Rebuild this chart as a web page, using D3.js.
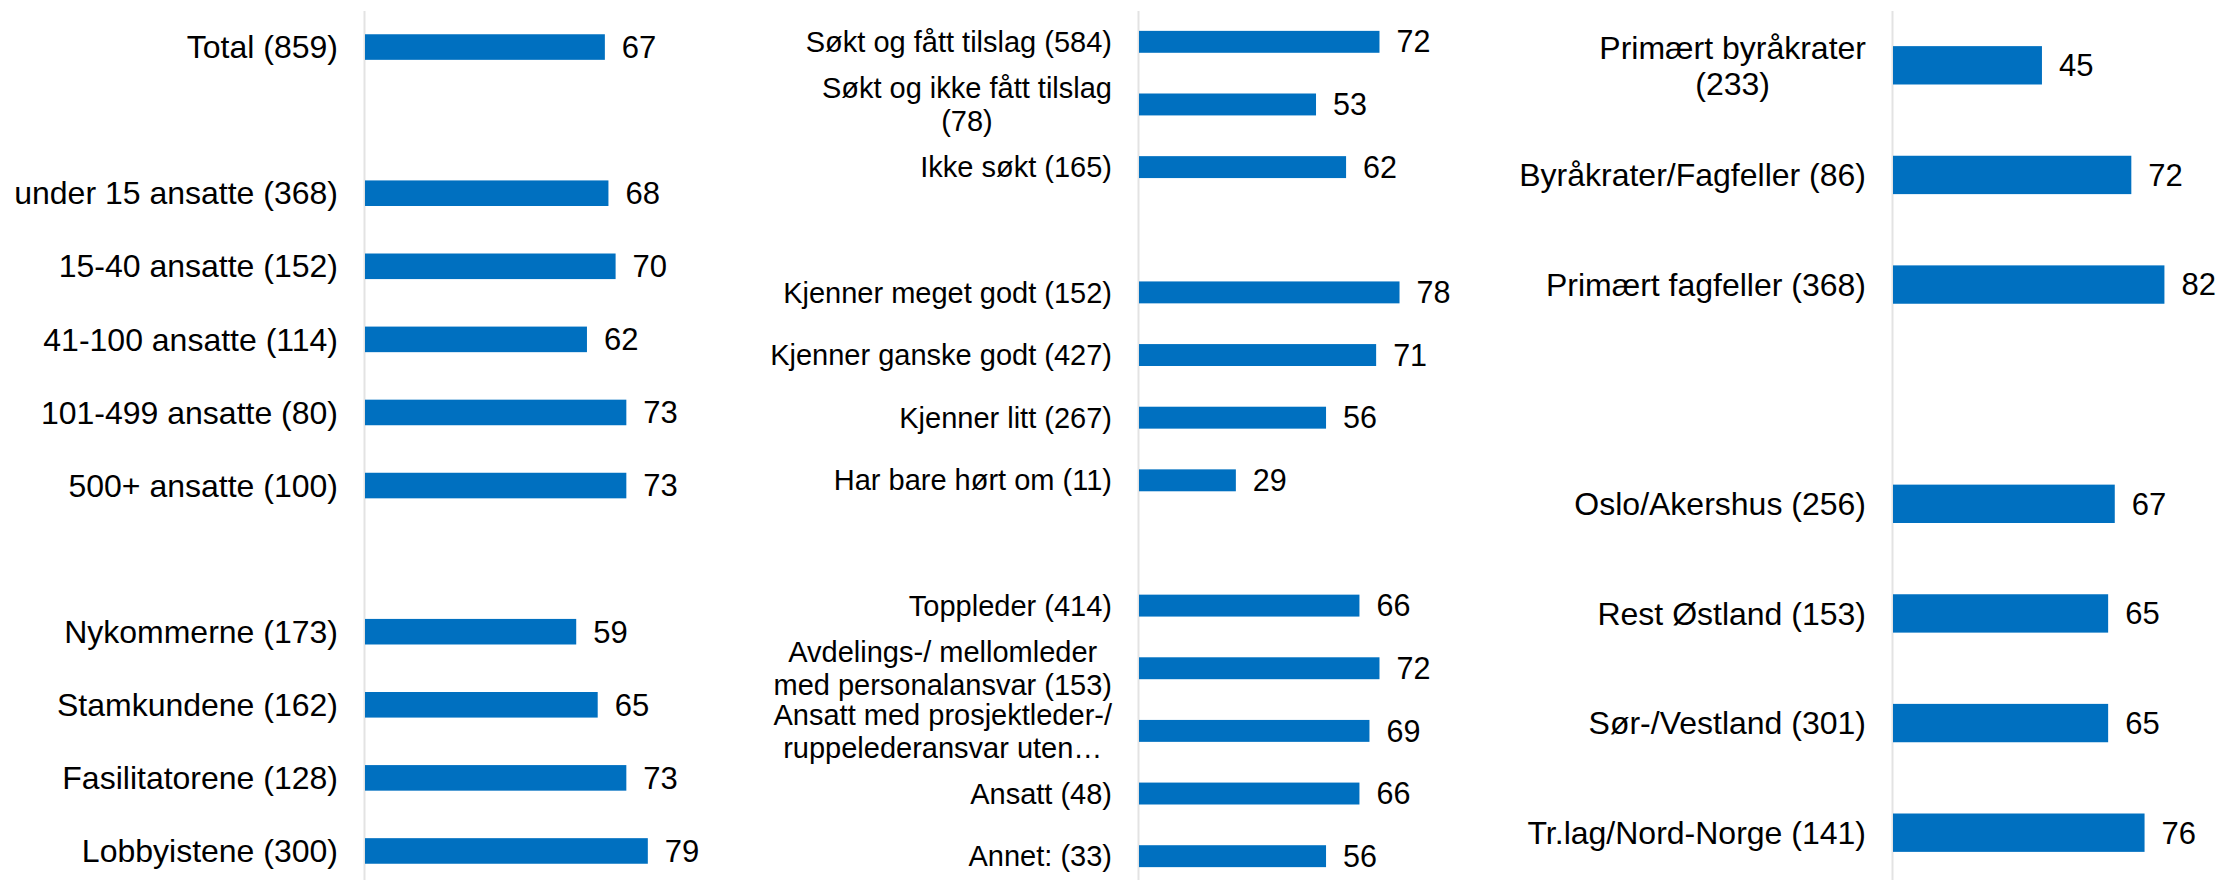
<!DOCTYPE html>
<html>
<head>
<meta charset="utf-8">
<script src="https://cdn.jsdelivr.net/npm/d3@7"></script>
<style>
	body { margin: 0; background: #ffffff; }
	svg { display: block; }
</style>
</head>
<body>
<div id="wrapper"></div>
<script>
// panel 1: size of company and customer type
const labels1 = ["Total (859)", "", "under 15 ansatte (368)", "15-40 ansatte (152)", "41-100 ansatte (114)",
	"101-499 ansatte (80)", "500+ ansatte (100)", "", "Nykommerne (173)", "Stamkundene (162)",
	"Fasilitatorene (128)", "Lobbyistene (300)"];
const values1 = [67, null, 68, 70, 62, 73, 73, null, 59, 65, 73, 79];

// panel 2: application, knowledge, position
const labels2 = ["Søkt og fått tilslag (584)", "Søkt og ikke fått tilslag\n(78)", "Ikke søkt (165)", "",
	"Kjenner meget godt (152)", "Kjenner ganske godt (427)", "Kjenner litt (267)", "Har bare hørt om (11)", "",
	"Toppleder (414)", "Avdelings-/ mellomleder\nmed personalansvar (153)",
	"Ansatt med prosjektleder-/\nruppelederansvar uten…", "Ansatt (48)", "Annet: (33)"];
const values2 = [72, 53, 62, null, 78, 71, 56, 29, null, 66, 72, 69, 66, 56];

// panel 3: bureaucrats/peers and region
const labels3 = ["Primært byråkrater\n(233)", "Byråkrater/Fagfeller (86)", "Primært fagfeller (368)", "",
	"Oslo/Akershus (256)", "Rest Østland (153)", "Sør-/Vestland (301)", "Tr.lag/Nord-Norge (141)"];
const values3 = [45, 72, 82, null, 67, 65, 65, 76];

const xDomain = [0, 100];

let dimensions = {
	width: 2220,
	height: 880,
	top: 10.5,
	bottom: 887.5,
	labelGap: 27,
	valueGap: 17
};

// each panel is its own small chart, so fonts differ slightly (Excel autoscaling)
const panels = [
	{labels: labels1, values: values1, axisX: 365, plotWidth: 358, labelSize: 32, valueSize: 31, lineHeight: 35},
	{labels: labels2, values: values2, axisX: 1139, plotWidth: 334, labelSize: 29, valueSize: 30.5, lineHeight: 33},
	{labels: labels3, values: values3, axisX: 1893, plotWidth: 331, labelSize: 32, valueSize: 31, lineHeight: 36}
];

const svg = d3.select("#wrapper").append("svg")
	.attr("width", dimensions.width)
	.attr("height", dimensions.height)
	.style("font-family", "'Liberation Sans', Arial, sans-serif");

function drawPanel(p) {
	const n = p.labels.length;

	const yScale = d3.scaleBand()
		.domain(d3.range(n))
		.range([dimensions.top, dimensions.bottom])
		.paddingInner(0.65)
		.paddingOuter(0.325);

	const xScale = d3.scaleLinear()
		.domain(xDomain)
		.range([p.axisX, p.axisX + p.plotWidth]);

	const g = svg.append("g");

	// vertical category axis (only the line shows)
	const yAxisGenerator = d3.axisLeft(yScale)
		.tickSize(0)
		.tickSizeOuter(0)
		.tickFormat("");
	const yAxis = g.append("g")
		.attr("transform", `translate(${xScale(0) - 1},0)`)
		.call(yAxisGenerator);
	yAxis.select(".domain")
		.attr("stroke", "#e3e3e3")
		.attr("stroke-width", 2);

	const rows = d3.range(n).filter(i => p.values[i] != null);

	g.selectAll("rect.bar")
		.data(rows)
		.join("rect")
		.attr("class", "bar")
		.attr("x", xScale(0))
		.attr("y", i => yScale(i))
		.attr("width", i => xScale(p.values[i]) - xScale(0))
		.attr("height", yScale.bandwidth())
		.attr("fill", "#0070c0");

	g.selectAll("text.value")
		.data(rows)
		.join("text")
		.attr("class", "value")
		.attr("x", i => xScale(p.values[i]) + dimensions.valueGap)
		.attr("y", i => yScale(i) + yScale.bandwidth() / 2)
		.attr("dy", "0.35em")
		.attr("fill", "#000")
		.style("font-size", p.valueSize + "px")
		.text(i => p.values[i]);

	// category labels, multi-line ones centred as a block
	rows.forEach(i => {
		const lines = p.labels[i].split("\n");
		const cy = yScale(i) + yScale.bandwidth() / 2;
		const rightX = xScale(0) - dimensions.labelGap;
		const t = g.append("text")
			.attr("fill", "#000")
			.style("font-size", p.labelSize + "px");
		if (lines.length == 1) {
			t.attr("x", rightX)
				.attr("y", cy)
				.attr("dy", "0.35em")
				.attr("text-anchor", "end")
				.text(lines[0]);
		} else {
			t.attr("text-anchor", "middle");
			const spans = t.selectAll("tspan")
				.data(lines)
				.join("tspan")
				.attr("y", (d, k) => cy + (k - (lines.length - 1) / 2) * p.lineHeight)
				.attr("dy", "0.35em")
				.text(d => d);
			const widest = d3.max(spans.nodes(), s => s.getComputedTextLength());
			spans.attr("x", rightX - widest / 2);
		}
	});
}

panels.forEach(drawPanel);
</script>
</body>
</html>
